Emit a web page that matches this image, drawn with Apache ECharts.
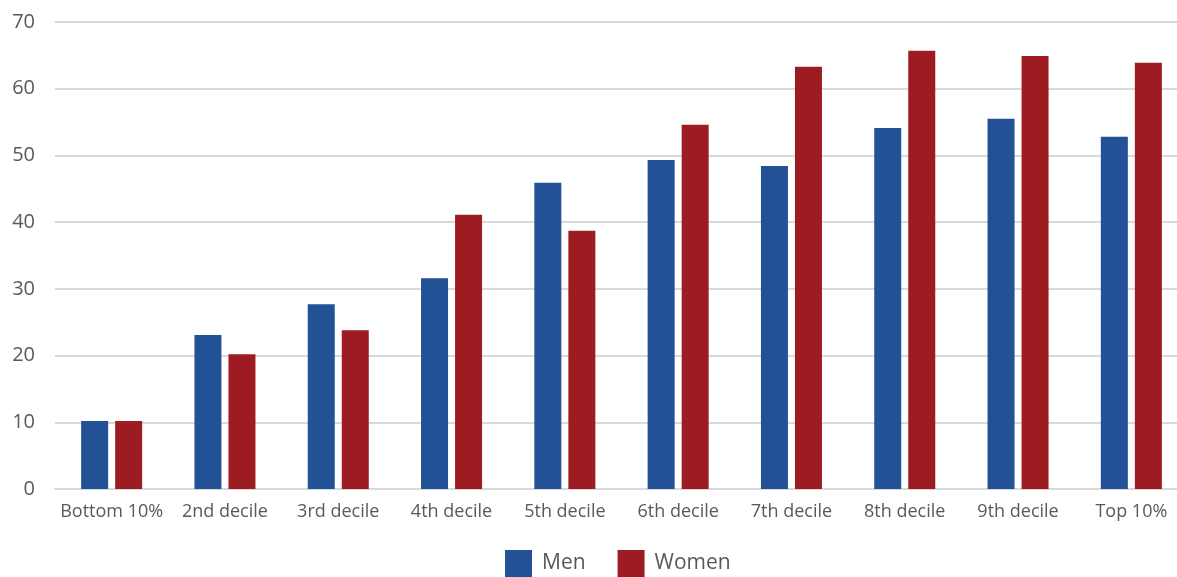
<!DOCTYPE html>
<html>
<head>
<meta charset="utf-8">
<script src="https://cdn.jsdelivr.net/npm/echarts@6/dist/echarts.min.js"></script>
<style>
html,body{margin:0;padding:0;background:#fff;}
#chart{width:1177px;height:577px;}
</style>
</head>
<body>
<div id="chart"></div>
<script>
const categories = ['Bottom 10%','2nd decile','3rd decile','4th decile','5th decile','6th decile','7th decile','8th decile','9th decile','Top 10%'];
const men = [10.2, 23.1, 27.7, 31.6, 45.9, 49.3, 48.4, 54.1, 55.5, 52.8];
const women = [10.2, 20.2, 23.8, 41.1, 38.7, 54.6, 63.3, 65.7, 64.9, 63.9];
const yTicks = [0, 10, 20, 30, 40, 50, 60, 70];

const font = '"Open Sans", sans-serif';
const chart = echarts.init(document.getElementById('chart'), null, {renderer: 'canvas'});
chart.setOption({
  animation: false,
  backgroundColor: '#ffffff',
  grid: {left: 55, width: 1133, top: 22, bottom: 88, containLabel: false, outerBoundsMode: 'none'},
  legend: {
    data: ['Men', 'Women'],
    left: 505, top: 550, padding: 0,
    itemWidth: 27, itemHeight: 27, itemGap: 32,
    icon: 'rect',
    textStyle: {fontFamily: font, fontSize: 21, color: '#595959', padding: [0, 0, 0, 5]}
  },
  xAxis: {
    type: 'category',
    data: categories,
    axisLine: {show: true, lineStyle: {color: '#d9d9d9', width: 2}},
    axisTick: {show: false},
    axisLabel: {fontFamily: font, fontSize: 18, color: '#595959', margin: 14, interval: 0}
  },
  yAxis: {
    type: 'value',
    min: yTicks[0], max: yTicks[yTicks.length - 1], interval: 10,
    axisLine: {show: false},
    axisTick: {show: false},
    axisLabel: {fontFamily: font, fontSize: 20, color: '#595959', margin: 20},
    splitLine: {lineStyle: {color: '#d9d9d9', width: 2}}
  },
  series: [
    {name: 'Men', type: 'bar', data: men, barWidth: 27, barGap: '26%', itemStyle: {color: '#235196'}},
    {name: 'Women', type: 'bar', data: women, barWidth: 27, barGap: '26%', itemStyle: {color: '#9c1c22'}}
  ]
});
</script>
</body>
</html>
